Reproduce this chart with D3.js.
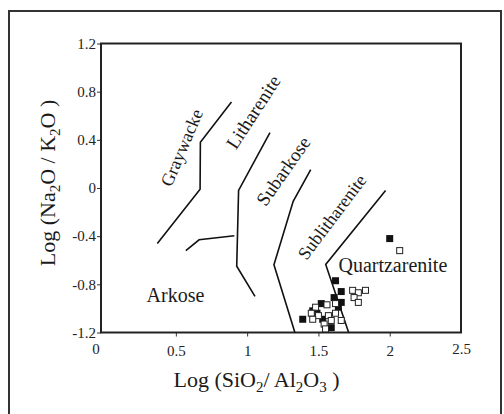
<!DOCTYPE html>
<html>
<head>
<meta charset="utf-8">
<script src="https://cdn.jsdelivr.net/npm/d3@7"></script>
<style>
  body { margin: 0; background: #fff; }
  svg { display: block; }
  svg text { font-family: "Liberation Serif", "Times New Roman", serif; }
</style>
</head>
<body>
<svg id="chart" width="504" height="414"></svg>
<script>
// classification boundaries (Log SiO2/Al2O3, Log Na2O/K2O)
const graywackeLine = [[0.37, -0.46], [0.67, -0.01], [0.672, 0.38], [0.89, 0.715]];
const lithareniteLine = [[1.16, 0.46], [0.94, -0.02], [0.927, -0.65], [1.055, -0.90]];
const arkoseBranch = [[0.57, -0.52], [0.663, -0.43], [0.91, -0.396]];
const subarkoseLine = [[1.446, 0.153], [1.323, -0.11], [1.188, -0.637], [1.335, -1.2]];
const quartzLine = [[1.971, -0.02], [1.551, -0.635], [1.712, -1.2]];
const boundaries = [graywackeLine, lithareniteLine, arkoseBranch, subarkoseLine, quartzLine];

// samples
const filledPts = [
  [2.0, -0.42], [1.62, -0.77], [1.66, -0.86], [1.61, -0.91], [1.66, -0.95],
  [1.64, -0.99], [1.39, -1.09], [1.46, -1.02], [1.52, -0.96], [1.53, -1.09],
  [1.59, -1.16], [1.49, -1.04]
];
const openPts = [
  [2.07, -0.52], [1.74, -0.85], [1.78, -0.87], [1.83, -0.85], [1.75, -0.91],
  [1.78, -0.95], [1.48, -0.99], [1.56, -0.97], [1.62, -0.96], [1.50, -1.06],
  [1.57, -1.06], [1.45, -1.04], [1.59, -1.10], [1.62, -1.04], [1.54, -1.13],
  [1.66, -1.10], [1.46, -1.09], [1.55, -1.17]
];

const xTicks = [0, 0.5, 1, 1.5, 2, 2.5];
const yTicks = [-1.2, -0.8, -0.4, 0, 0.4, 0.8, 1.2];

// rotated / plain region names, placed in data units
const regionLabels = [
  { text: "Graywacke", x: 0.542, y: 0.335, angle: -67, size: 18 },
  { text: "Litharenite", x: 1.043, y: 0.631, angle: -57, size: 19 },
  { text: "Subarkose", x: 1.253, y: 0.141, angle: -55, size: 19 },
  { text: "Sublitharenite", x: 1.596, y: -0.241, angle: -53, size: 18 },
  { text: "Arkose", x: 0.497, y: -0.948, angle: 0, size: 20, baseline: true },
  { text: "Quartzarenite", x: 2.022, y: -0.699, angle: 0, size: 20, baseline: true }
];

const svg = d3.select("#chart");
const margin = { top: 43.5, right: 43, bottom: 81.5, left: 101 };
const W = 504, H = 414;

const x = d3.scaleLinear().domain([-0.025, 2.5]).range([margin.left, W - margin.right]);
const y = d3.scaleLinear().domain([-1.2, 1.2]).range([H - margin.bottom, margin.top]);

// outer frame
svg.append("rect")
  .attr("x", 9).attr("y", 11)
  .attr("width", 492).attr("height", 410)
  .attr("fill", "none").attr("stroke", "#333").attr("stroke-width", 2);

// axes
const fmt = d => String(d);

const xAxis = svg.append("g")
  .attr("transform", `translate(0,${H - margin.bottom})`)
  .call(d3.axisBottom(x).tickValues(xTicks).tickSize(4).tickPadding(9).tickFormat(fmt))
  .attr("font-family", null)
  .attr("font-size", null);
xAxis.select(".domain").remove();
xAxis.selectAll(".tick line")
  .attr("stroke", "#333")
  .attr("stroke-width", 1)
  .attr("display", d => (d === 0 || d === 2.5) ? "none" : null);
xAxis.selectAll(".tick text")
  .attr("fill", "#222")
  .attr("font-size", 15)
  .attr("dx", d => d === 0 ? -9 : 0)
  .attr("y", d => (d === 0 || d === 2.5) ? 11 : 12.5);

const yAxis = svg.append("g")
  .attr("transform", `translate(${margin.left},0)`)
  .call(d3.axisLeft(y).tickValues(yTicks).tickSize(4).tickPadding(1).tickFormat(fmt))
  .attr("font-family", null)
  .attr("font-size", null);
yAxis.select(".domain").remove();
yAxis.selectAll(".tick line").attr("stroke", "#333").attr("stroke-width", 1);
yAxis.selectAll(".tick text")
  .attr("fill", "#222")
  .attr("font-size", 15);

// plot frame
svg.append("rect")
  .attr("x", x.range()[0]).attr("y", y.range()[1])
  .attr("width", x.range()[1] - x.range()[0])
  .attr("height", y.range()[0] - y.range()[1])
  .attr("fill", "none").attr("stroke", "#222").attr("stroke-width", 2);

// boundaries
const line = d3.line().x(d => x(d[0])).y(d => y(d[1]));
svg.append("g").selectAll("path")
  .data(boundaries)
  .join("path")
  .attr("d", line)
  .attr("fill", "none")
  .attr("stroke", "#111")
  .attr("stroke-width", 1.6);

// region labels
svg.append("g").selectAll("text")
  .data(regionLabels)
  .join("text")
  .attr("transform", d => `translate(${x(d.x)},${y(d.y)}) rotate(${d.angle})`)
  .attr("text-anchor", "middle")
  .attr("dominant-baseline", d => d.baseline ? null : "central")
  .attr("font-size", d => d.size)
  .attr("fill", "#1a1a1a")
  .text(d => d.text);

// samples
const s = 7;
svg.append("g").selectAll("rect")
  .data(filledPts)
  .join("rect")
  .attr("x", d => x(d[0]) - s / 2)
  .attr("y", d => y(d[1]) - s / 2)
  .attr("width", s).attr("height", s)
  .attr("fill", "#111");

svg.append("g").selectAll("rect")
  .data(openPts)
  .join("rect")
  .attr("x", d => x(d[0]) - (s - 1) / 2)
  .attr("y", d => y(d[1]) - (s - 1) / 2)
  .attr("width", s - 1).attr("height", s - 1)
  .attr("fill", "#fff")
  .attr("stroke", "#222")
  .attr("stroke-width", 1);

// axis titles
const xt = svg.append("text")
  .attr("x", 256.5).attr("y", 386.5)
  .attr("text-anchor", "middle")
  .attr("font-size", 22)
  .attr("fill", "#1a1a1a");
xt.append("tspan").text("Log (SiO");
xt.append("tspan").attr("font-size", 15).attr("dy", 5).text("2");
xt.append("tspan").attr("dy", -5).text("/ Al");
xt.append("tspan").attr("font-size", 15).attr("dy", 5).text("2");
xt.append("tspan").attr("dy", -5).text("O");
xt.append("tspan").attr("font-size", 15).attr("dy", 5).text("3");
xt.append("tspan").attr("dy", -5).text(" )");

const yt = svg.append("text")
  .attr("transform", "translate(55,183) rotate(-90)")
  .attr("text-anchor", "middle")
  .attr("font-size", 22)
  .attr("fill", "#1a1a1a");
yt.append("tspan").text("Log (Na");
yt.append("tspan").attr("font-size", 15).attr("dy", 5).text("2");
yt.append("tspan").attr("dy", -5).text("O / K");
yt.append("tspan").attr("font-size", 15).attr("dy", 5).text("2");
yt.append("tspan").attr("dy", -5).text("O )");
</script>
</body>
</html>
